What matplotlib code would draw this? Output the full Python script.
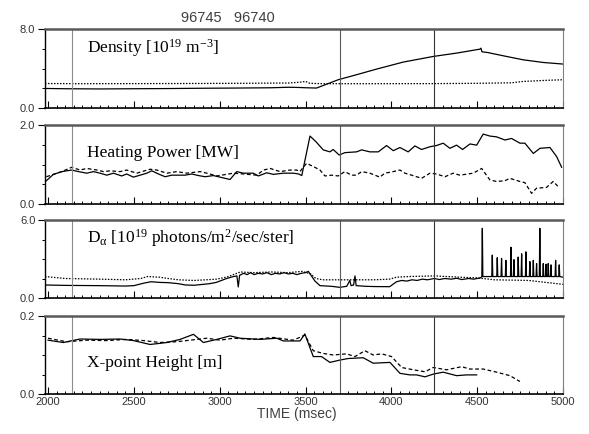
import matplotlib
matplotlib.use("Agg")
import matplotlib.pyplot as plt
from matplotlib.ticker import MultipleLocator, FixedLocator, FixedFormatter

plt.rcParams['mathtext.fontset'] = 'custom'
plt.rcParams['mathtext.rm'] = 'Liberation Serif'
plt.rcParams['mathtext.it'] = 'Liberation Serif:italic'
plt.rcParams['mathtext.bf'] = 'Liberation Serif:bold'

# ---------------- data ----------------
shot_label = "96745   96740"
x_ticks = [2000, 2500, 3000, 3500, 4000, 4500, 5000]
marker_times = [2140, 3700, 4250]

# Density [1e19 m^-3]
dens_solid_t = [1982, 2100, 2300, 2500, 2700, 2900, 3100, 3300, 3400, 3460, 3500, 3564,
                3690, 3797, 3914, 4069, 4244, 4380, 4516, 4522, 4528, 4560, 4671, 4768, 4885, 5000]
dens_solid_v = [1.98, 1.95, 1.93, 1.95, 1.97, 2.0, 2.02, 2.05, 2.1, 2.08, 2.05, 2.02,
                2.86, 3.37, 3.94, 4.65, 5.22, 5.56, 5.96, 6.06, 5.69, 5.62, 5.22, 4.88, 4.61, 4.45]
dens_dot_t = [1982, 2200, 2500, 2800, 3100, 3400, 3470, 3500, 3525, 3600, 3900, 4244, 4500,
              4700, 4768, 4900, 5000]
dens_dot_v = [2.48, 2.46, 2.47, 2.48, 2.5, 2.53, 2.62, 2.69, 2.5, 2.46, 2.46, 2.47, 2.5,
              2.55, 2.69, 2.8, 2.86]

# Heating power [MW]
hp_solid_t = [1985, 2031, 2080, 2138, 2177, 2225, 2264, 2303, 2342, 2381, 2429, 2458, 2497,
              2536, 2575, 2604, 2643, 2682, 2720, 2759, 2798, 2837, 2876, 2915, 2963, 3002,
              3060, 3099, 3138, 3196, 3225, 3274, 3313, 3371, 3429, 3460, 3478, 3526, 3560,
              3603, 3642, 3661, 3696, 3729, 3797, 3827, 3875, 3924, 3972, 4011, 4050, 4098,
              4137, 4176, 4225, 4263, 4302, 4341, 4380, 4415, 4458, 4497, 4535, 4574, 4613,
              4662, 4700, 4749, 4778, 4827, 4866, 4924, 4963, 4992]
hp_solid_v = [0.57, 0.75, 0.82, 0.86, 0.82, 0.78, 0.82, 0.78, 0.73, 0.78, 0.71, 0.76, 0.68,
              0.73, 0.78, 0.84, 0.76, 0.69, 0.73, 0.73, 0.73, 0.76, 0.72, 0.69, 0.72, 0.68,
              0.62, 0.82, 0.78, 0.78, 0.71, 0.79, 0.75, 0.78, 0.78, 0.76, 0.72, 1.72, 1.58,
              1.37, 1.32, 1.38, 1.24, 1.30, 1.32, 1.37, 1.32, 1.32, 1.48, 1.35, 1.43, 1.32,
              1.47, 1.38, 1.45, 1.48, 1.54, 1.41, 1.49, 1.38, 1.52, 1.49, 1.77, 1.72, 1.70,
              1.62, 1.66, 1.54, 1.54, 1.28, 1.41, 1.43, 1.20, 0.93]
hp_dash_t = [1990, 2080, 2138, 2186, 2225, 2284, 2323, 2362, 2420, 2458, 2516, 2594, 2633,
             2692, 2750, 2808, 2886, 2925, 2983, 3079, 3138, 3216, 3255, 3294, 3352, 3410,
             3448, 3467, 3506, 3545, 3584, 3613, 3652, 3690, 3729, 3768, 3797, 3827, 3875,
             3933, 3962, 4011, 4050, 4079, 4118, 4176, 4225, 4263, 4312, 4360, 4399, 4477,
             4526, 4574, 4613, 4662, 4690, 4749, 4778, 4817, 4846, 4904, 4943, 4972]
hp_dash_v = [0.69, 0.82, 0.93, 0.86, 0.90, 0.86, 0.82, 0.84, 0.82, 0.86, 0.78, 0.88, 0.86,
             0.78, 0.82, 0.78, 0.82, 0.78, 0.71, 0.78, 0.76, 0.73, 0.86, 0.90, 0.82, 0.86,
             0.86, 0.82, 1.03, 0.95, 0.86, 0.71, 0.73, 0.71, 0.82, 0.73, 0.73, 0.82, 0.78,
             0.68, 0.78, 0.82, 0.86, 0.78, 0.73, 0.65, 0.78, 0.76, 0.69, 0.78, 0.73, 0.78,
             0.90, 0.61, 0.57, 0.59, 0.65, 0.57, 0.54, 0.27, 0.40, 0.42, 0.57, 0.44]

# D-alpha [1e19 photons/m^2/sec/ster]
da_solid_t = [1982, 2050, 2100, 2200, 2300, 2400, 2450, 2500, 2560, 2600, 2650, 2700, 2760,
              2800, 2850, 2900, 2940, 2980, 3010, 3040, 3080, 3100, 3108, 3116, 3140, 3160,
              3180, 3200, 3225, 3250, 3275, 3300, 3325, 3350, 3375, 3400, 3425, 3450, 3475,
              3500, 3516, 3555, 3584, 3650, 3700, 3740, 3758, 3765, 3780, 3788, 3795, 3850,
              3900, 3990, 4030, 4060, 4090, 4120, 4150, 4180, 4210, 4250, 4280, 4310, 4350,
              4380, 4410, 4450, 4480, 4520]
da_solid_v = [1.0, 0.98, 0.97, 0.96, 0.95, 0.93, 0.92, 0.95, 1.15, 1.25, 1.2, 1.18, 1.1,
              1.0, 0.98, 1.05, 1.1, 1.2, 1.35, 1.5, 1.65, 1.7, 0.85, 1.75, 1.9, 1.8,
              1.95, 1.8, 1.9, 1.85, 1.95, 1.8, 1.9, 1.85, 1.95, 1.85, 1.9, 1.8, 1.9,
              1.95, 2.05, 1.3, 0.95, 0.9, 0.82, 0.9, 1.35, 0.95, 1.0, 1.7, 0.95, 0.9,
              0.88, 0.87, 1.25, 1.35, 1.3, 1.4, 1.35, 1.45, 1.4, 1.5, 1.42, 1.5, 1.45,
              1.52, 1.42, 1.5, 1.45, 1.55]
da_spike_t = [4530, 4588, 4617, 4642, 4667, 4697, 4714, 4739, 4759, 4784, 4807, 4827, 4846,
              4865, 4885, 4901, 4914, 4930, 4957, 4978]
da_spike_v = [5.36, 3.3, 3.1, 3.05, 2.9, 3.9, 2.95, 3.15, 3.4, 3.55, 2.8, 2.9, 2.65,
              5.36, 2.65, 2.6, 2.65, 2.55, 2.9, 2.55]
da_spike_base = 1.65
da_end_t = [5000]
da_end_v = [1.6]
da_dot_t = [1982, 2100, 2300, 2450, 2540, 2580, 2650, 2700, 2760, 2850, 2920, 2980, 3020,
            3050, 3090, 3120, 3200, 3300, 3400, 3480, 3530, 3560, 3600, 3700, 3900, 3990,
            4030, 4100, 4250, 4400, 4500, 4600, 4800, 4900, 5000]
da_dot_v = [1.65, 1.5, 1.45, 1.4, 1.5, 1.65, 1.6, 1.5, 1.4, 1.35, 1.4, 1.45, 1.55,
            1.65, 1.85, 2.0, 1.95, 2.0, 1.95, 2.05, 1.85, 1.5, 1.4, 1.4, 1.4, 1.45,
            1.6, 1.65, 1.7, 1.6, 1.55, 1.4, 1.35, 1.2, 1.05]

# X-point height [m]
xp_solid_t = [2000, 2089, 2186, 2303, 2420, 2497, 2594, 2692, 2769, 2847, 2905, 2983, 3060,
              3119, 3235, 3332, 3371, 3468, 3496, 3545, 3593, 3642, 3700, 3749, 3836, 3894,
              3992, 4050, 4108, 4147, 4196, 4244, 4302, 4380, 4438, 4497]
xp_solid_v = [0.138, 0.132, 0.141, 0.140, 0.141, 0.137, 0.127, 0.132, 0.140, 0.153, 0.132,
              0.140, 0.149, 0.143, 0.140, 0.143, 0.136, 0.136, 0.154, 0.096, 0.096, 0.081,
              0.087, 0.091, 0.093, 0.079, 0.081, 0.053, 0.049, 0.049, 0.044, 0.051, 0.056,
              0.047, 0.049, 0.049]
xp_dash_t = [2000, 2107, 2224, 2340, 2457, 2555, 2652, 2749, 2827, 2925, 3002, 3080, 3196,
             3313, 3429, 3496, 3545, 3603, 3661, 3739, 3788, 3846, 3894, 3943, 4001, 4060,
             4128, 4196, 4244, 4322, 4409, 4458, 4535, 4613, 4691, 4749]
xp_dash_v = [0.143, 0.134, 0.138, 0.137, 0.140, 0.137, 0.132, 0.134, 0.138, 0.143, 0.138,
             0.143, 0.140, 0.145, 0.138, 0.151, 0.111, 0.104, 0.100, 0.103, 0.096, 0.111,
             0.100, 0.103, 0.096, 0.068, 0.062, 0.057, 0.068, 0.062, 0.070, 0.064, 0.064,
             0.056, 0.047, 0.032]

# build the D-alpha solid trace including spikes (base-peak-base)
da_t = list(da_solid_t)
da_v = list(da_solid_v)
for st, sv in zip(da_spike_t, da_spike_v):
    da_t += [st - 3, st, st + 3]
    da_v += [da_spike_base, sv, da_spike_base]
da_t += da_end_t
da_v += da_end_v

# ---------------- figure ----------------
fig = plt.figure(figsize=(5.89, 4.34), dpi=100)
left, width = 45 / 589, 518 / 589
bottoms = [1 - 108 / 434, 1 - 204 / 434, 1 - 298 / 434, 1 - 394 / 434]
heights = [79 / 434, 79 / 434, 78 / 434, 78 / 434]

panels = [
    dict(ymax=8.0, minor=2.0, title=r'Density [10$^{19}$ m$^{\mathrm{-3}}$]', ty=0.76,
         lines=[(dens_solid_t, dens_solid_v, '-'), (dens_dot_t, dens_dot_v, ':')]),
    dict(ymax=2.0, minor=0.5, title='Heating Power [MW]', ty=0.645,
         lines=[(hp_solid_t, hp_solid_v, '-'), (hp_dash_t, hp_dash_v, '--')]),
    dict(ymax=6.0, minor=1.5, title=r'D$_{\mathrm{α}}$ [10$^{19}$ photons/m$^{2}$/sec/ster]', ty=0.77,
         lines=[(da_t, da_v, '-'), (da_dot_t, da_dot_v, ':')]),
    dict(ymax=0.2, minor=0.05, title='X-point Height [m]', ty=0.40,
         lines=[(xp_solid_t, xp_solid_v, '-'), (xp_dash_t, xp_dash_v, '--')]),
]

marker_colors = ['0.55', '0.35', '0.2']

for i, p in enumerate(panels):
    ax = fig.add_axes([left, bottoms[i], width, heights[i]])
    for t, v, ls in p['lines']:
        ax.plot(t, v, color='black', lw=0.9, ls=ls,
                dashes=(1.2, 1.2) if ls == ':' else ((3, 2) if ls == '--' else (None, None)))
    for mt, mc in zip(marker_times, marker_colors):
        ax.axvline(mt, color=mc, lw=0.8)
    ax.set_xlim(1982, 5000)
    ax.set_ylim(0, p['ymax'])
    ax.xaxis.set_major_locator(FixedLocator(x_ticks))
    ax.xaxis.set_minor_locator(MultipleLocator(50))
    ax.tick_params(axis='x', which='major', direction='in', length=5, width=0.8,
                   bottom=True, top=False)
    ax.tick_params(axis='x', which='minor', direction='in', length=2.5, width=0.7,
                   bottom=True, top=False)
    ax.yaxis.set_major_locator(FixedLocator([0, p['ymax']]))
    ax.yaxis.set_major_formatter(FixedFormatter(['0.0', '%.1f' % p['ymax']]))
    ax.yaxis.set_minor_locator(MultipleLocator(p['minor']))
    ax.tick_params(axis='y', which='major', direction='out', length=5, width=0.8, pad=2)
    ax.tick_params(axis='y', which='minor', direction='out', length=2.5, width=0.7)
    for lab in ax.get_yticklabels():
        lab.set_fontfamily('Liberation Sans')
        lab.set_fontsize(8)
        lab.set_color('0.2')
    if i < 3:
        ax.set_xticklabels([])
    else:
        ax.set_xticklabels([str(x) for x in x_ticks], fontfamily='Liberation Sans',
                           fontsize=8, color='0.2')
        ax.tick_params(axis='x', pad=2)
    ax.spines['top'].set_linewidth(1.8)
    ax.spines['top'].set_color('0.35')
    ax.spines['right'].set_linewidth(0.8)
    ax.spines['right'].set_color('0.5')
    ax.spines['bottom'].set_linewidth(1.2)
    ax.spines['left'].set_linewidth(1.0)
    ax.text(0.081, p['ty'], p['title'], transform=ax.transAxes, ha='left', va='center',
            fontfamily='Liberation Serif', fontsize=12.5, color='black')

fig.text(228 / 589, 1 - 18 / 434, shot_label, ha='center', va='center',
         fontfamily='Liberation Sans', fontsize=10.5, color='0.25')
fig.text(297 / 589, 1 - 414 / 434, 'TIME (msec)', ha='center', va='center',
         fontfamily='Liberation Sans', fontsize=10, color='0.25')

fig.savefig('out.png', dpi=100)
